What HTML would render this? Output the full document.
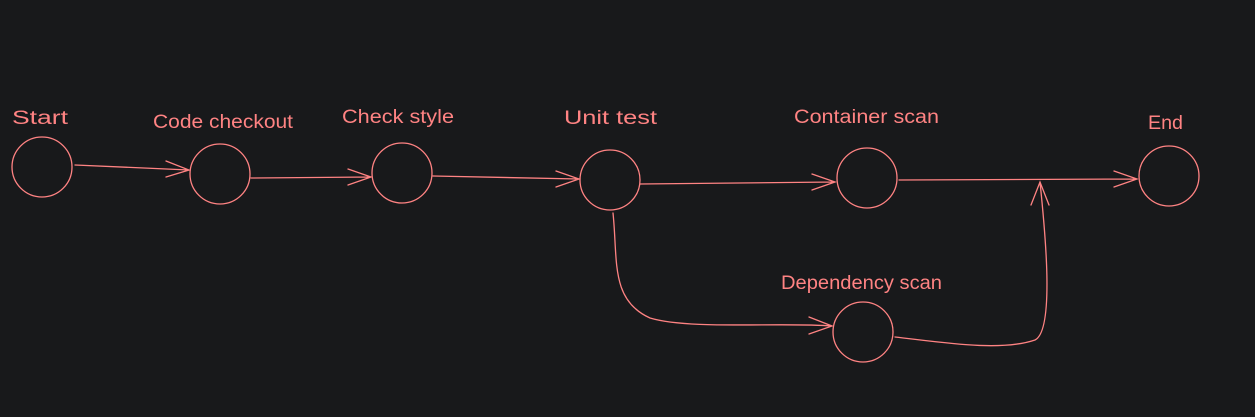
<!DOCTYPE html>
<html><head><style>
html,body{margin:0;padding:0;background:#18191b;}
svg{display:block}
text{font-family:"Liberation Sans",sans-serif;font-size:19px;fill:#ff8383;}
</style></head><body>
<svg width="1255" height="417" viewBox="0 0 1255 417">
<rect width="1255" height="417" fill="#18191b"/>
<g fill="none" stroke="#ff8383" stroke-width="1.3" stroke-linecap="round">
<circle cx="42" cy="167" r="30"/>
<circle cx="220" cy="174" r="30"/>
<circle cx="402" cy="173" r="30"/>
<circle cx="610" cy="180" r="30"/>
<circle cx="867" cy="178" r="30"/>
<circle cx="1169" cy="176" r="30"/>
<circle cx="863" cy="332" r="30"/>
<path d="M75 165 L189 170 M166 161 L189 170 L166 177"/>
<path d="M251 178 L371 177 M348 169 L371 177 L348 185"/>
<path d="M433 176 L579 179 M556 171 L579 179 L556 187"/>
<path d="M640 184 L835 182 M812 174 L835 182 L812 190"/>
<path d="M899 180 L1137 179 M1114 171 L1137 179 L1114 187"/>
<path d="M613 213 C618 260 610 300 650 318 C690 330 780 322 832 326 M809 317 L832 326 L809 334"/>
<path d="M895 337 C940 342 1000 352 1035 340 C1055 330 1045 230 1040 182 M1031 205 L1040 182 L1049 205"/>
</g>
<g>
<text x="12" y="124" textLength="56" lengthAdjust="spacingAndGlyphs">Start</text>
<text x="153" y="128" textLength="140" lengthAdjust="spacingAndGlyphs">Code checkout</text>
<text x="342" y="123" textLength="112" lengthAdjust="spacingAndGlyphs">Check style</text>
<text x="564" y="124" textLength="93" lengthAdjust="spacingAndGlyphs">Unit test</text>
<text x="794" y="123" textLength="145" lengthAdjust="spacingAndGlyphs">Container scan</text>
<text x="1148" y="129" textLength="35" lengthAdjust="spacingAndGlyphs">End</text>
<text x="781" y="289" textLength="161" lengthAdjust="spacingAndGlyphs">Dependency scan</text>
</g>
</svg>
</body></html>
